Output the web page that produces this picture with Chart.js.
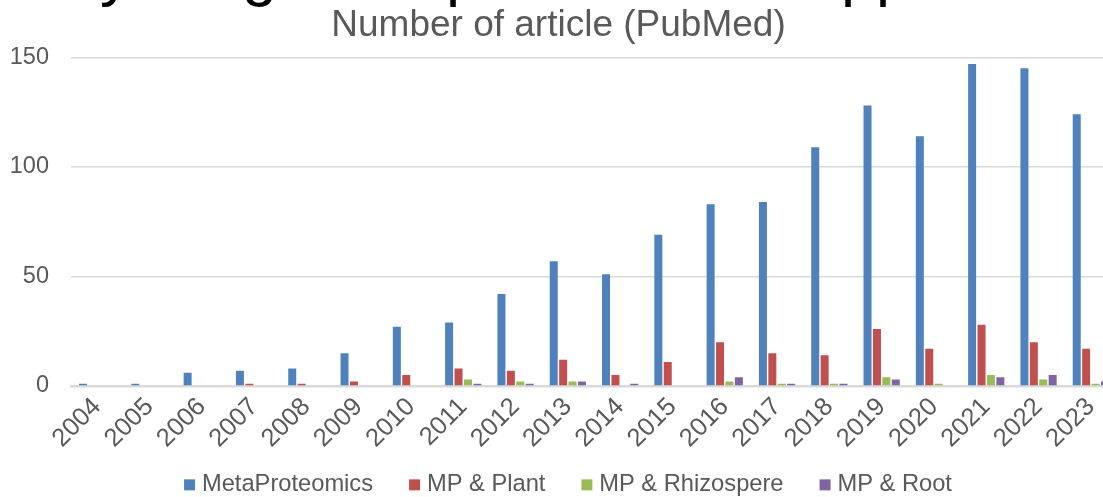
<!DOCTYPE html>
<html><head><meta charset="utf-8">
<script src="https://cdn.jsdelivr.net/npm/chart.js@4.4.1/dist/chart.umd.min.js"></script>
<style>
html,body{margin:0;padding:0;overflow:hidden;background:#fff;width:1103px;height:497px}
#wrap{position:absolute;left:0;top:0;width:1140px;height:497px}
</style>
</head><body><div id="wrap"><canvas id="c" width="1140" height="497"></canvas></div>
<script>
const years = ['2004','2005','2006','2007','2008','2009','2010','2011','2012','2013','2014','2015','2016','2017','2018','2019','2020','2021','2022','2023'];
const metaProteomics = [1,1,6,7,8,15,27,29,42,57,51,69,83,84,109,128,114,147,145,124];
const mpPlant        = [0,0,0,1,1,2,5,8,7,12,5,11,20,15,14,26,17,28,20,17];
const mpRhizospere   = [0,0,0,0,0,0,0,3,2,2,0,0,2,1,1,4,1,5,3,1];
const mpRoot         = [0,0,0,0,0,0,0,1,1,2,1,0,4,1,1,3,0,4,5,2];
const seriesNames = ['MetaProteomics','MP & Plant','MP & Rhizospere','MP & Root'];
const yTicks = [0,50,100,150];
const chartTitle = 'Number of article (PubMed)';
const slideTitleWords = [['Why','y',100],['using','g',242],['metaproteomics','p',446],['approach','p',841]];

const colors = ['#4F81BD','#C0504D','#9BBB59','#8064A2'];
const FONT = '"Liberation Sans", Arial, sans-serif';

const layoutFix = {
  id: 'layoutFix',
  beforeLayout(chart) {
    const lg = chart.legend;
    if (lg && !lg.__patched) {
      const f = lg.fit;
      lg.fit = function() { f.call(this); this.height = 41; };
      lg.__patched = true;
    }
  },
  afterLayout(chart) {
    const lg = chart.legend;
    if (lg) { lg.left += 12; lg.right += 12; lg.top -= 24; }
  },
  afterDraw(chart) {
    const ctx = chart.ctx;
    ctx.save();
    ctx.font = '63px ' + FONT;
    ctx.fillStyle = '#000000';
    ctx.textBaseline = 'alphabetic';
    ctx.textAlign = 'left';
    slideTitleWords.forEach(([w, ch, target]) => {
      const idx = w.indexOf(ch);
      const pre = ctx.measureText(w.slice(0, idx)).width;
      ctx.fillText(w, target - pre, -6);
    });
    ctx.restore();
  }
};

const datasets = [metaProteomics, mpPlant, mpRhizospere, mpRoot].map((d, i) => ({
  label: seriesNames[i],
  data: d,
  backgroundColor: colors[i],
  borderWidth: 0,
  barPercentage: 0.85,
  categoryPercentage: 0.72
}));

new Chart(document.getElementById('c'), {
  type: 'bar',
  data: { labels: years, datasets },
  plugins: [layoutFix],
  options: {
    responsive: false,
    devicePixelRatio: 1,
    animation: false,
    layout: { padding: { left: 0, right: 23, top: 0, bottom: 0 } },
    plugins: {
      tooltip: { enabled: false },
      title: {
        display: true,
        text: chartTitle,
        color: '#595959',
        font: { family: FONT, size: 37, weight: 'normal' },
        padding: { top: 4, bottom: 9 }
      },
      legend: {
        position: 'bottom',
        labels: {
          usePointStyle: true,
          pointStyle: 'rect',
          boxWidth: 1,
          boxHeight: 11,
          padding: 41,
          color: '#595959',
          font: { family: FONT, size: 23.7 }
        }
      }
    },
    scales: {
      x: {
        grid: { display: false, drawTicks: false },
        border: { display: true, color: '#D9D9D9', width: 2.5 },
        ticks: {
          color: '#595959',
          font: { family: FONT, size: 25.5 },
          minRotation: 45, maxRotation: 45,
          autoSkip: false,
          padding: 6
        },
        afterFit(s) { s.height = 70; }
      },
      y: {
        min: 0, max: 150,
        afterBuildTicks(s) { s.ticks = yTicks.map(v => ({ value: v })); },
        grid: { color: '#D9D9D9', lineWidth: 1.5, drawTicks: false },
        border: { display: false },
        ticks: {
          color: '#595959',
          font: { family: FONT, size: 23.5 },
          padding: 22
        },
        afterFit(s) { s.width = 71; }
      }
    }
  }
});
</script>
</body></html>
